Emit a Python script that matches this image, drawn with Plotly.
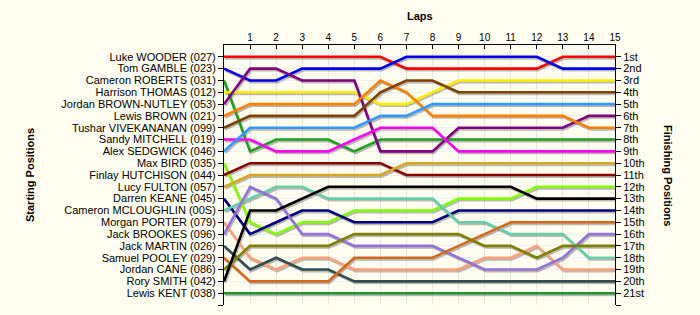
import plotly.graph_objects as go

# ---------------- data ----------------
laps = list(range(16))
lap_labels = ["", "1", "2", "3", "4", "5", "6", "7", "8", "9", "10", "11", "12", "13", "14", "15"]

start_labels = [
    "Luke WOODER (027)", "Tom GAMBLE (023)", "Cameron ROBERTS (031)", "Harrison THOMAS (012)",
    "Jordan BROWN-NUTLEY (053)", "Lewis BROWN (021)", "Tushar VIVEKANANAN (099)", "Sandy MITCHELL (019)",
    "Alex SEDGWICK (046)", "Max BIRD (035)", "Finlay HUTCHISON (044)", "Lucy FULTON (057)",
    "Darren KEANE (045)", "Cameron MCLOUGHLIN (00S)", "Morgan PORTER (079)", "Jack BROOKES (096)",
    "Jack MARTIN (026)", "Samuel POOLEY (029)", "Jordan CANE (086)", "Rory SMITH (042)", "Lewis KENT (038)",
]
finish_labels = ["1st", "2nd", "3rd", "4th", "5th", "6th", "7th", "8th", "9th", "10th", "11th",
                 "12th", "13th", "14th", "15th", "16th", "17th", "18th", "19th", "20th", "21st"]

# position on each lap (lap 0 = starting position)
wooder      = [1, 1, 1, 1, 1, 1, 1, 2, 2, 2, 2, 2, 2, 1, 1, 1]
gamble      = [2, 3, 3, 2, 2, 2, 2, 1, 1, 1, 1, 1, 1, 2, 2, 2]
roberts     = [3, 9, 8, 8, 8, 9, 8, 8, 8, 8, 8, 8, 8, 8, 8, 8]
thomas      = [4, 4, 4, 4, 4, 4, 5, 5, 4, 3, 3, 3, 3, 3, 3, 3]
brownnutley = [5, 2, 2, 3, 3, 3, 9, 9, 9, 7, 7, 7, 7, 7, 6, 6]
brown       = [6, 5, 5, 5, 5, 5, 3, 4, 6, 6, 6, 6, 6, 6, 7, 7]
vivekananan = [7, 6, 6, 6, 6, 6, 4, 3, 3, 4, 4, 4, 4, 4, 4, 4]
mitchell    = [8, 8, 9, 9, 9, 8, 7, 7, 7, 9, 9, 9, 9, 9, 9, 9]
sedgwick    = [9, 7, 7, 7, 7, 7, 6, 6, 5, 5, 5, 5, 5, 5, 5, 5]
bird        = [10, 15, 16, 15, 15, 14, 14, 14, 14, 13, 13, 13, 12, 12, 12, 12]
hutchison   = [11, 10, 10, 10, 10, 10, 10, 11, 11, 11, 11, 11, 11, 11, 11, 11]
fulton      = [12, 11, 11, 11, 11, 11, 11, 10, 10, 10, 10, 10, 10, 10, 10, 10]
keane       = [13, 16, 15, 14, 14, 15, 15, 15, 15, 14, 14, 14, 14, 14, 14, 14]
mcloughlin  = [14, 13, 12, 12, 13, 13, 13, 13, 13, 15, 15, 16, 16, 16, 18, 18]
porter      = [15, 18, 19, 18, 18, 19, 19, 19, 19, 19, 18, 18, 17, 19, 19, 19]
brookes     = [16, 12, 13, 16, 16, 17, 17, 17, 17, 18, 19, 19, 19, 18, 16, 16]
martin      = [17, 19, 18, 19, 19, 20, 20, 20, 20, 20, 20, 20, 20, 20, 20, 20]
pooley      = [18, 20, 20, 20, 20, 18, 18, 18, 18, 17, 16, 15, 15, 15, 15, 15]
cane        = [19, 17, 17, 17, 17, 16, 16, 16, 16, 16, 17, 17, 18, 17, 17, 17]
smith       = [20, 14, 14, 13, 12, 12, 12, 12, 12, 12, 12, 12, 13, 13, 13, 13]
kent        = [21, 21, 21, 21, 21, 21, 21, 21, 21, 21, 21, 21, 21, 21, 21, 21]

series = [wooder, gamble, roberts, thomas, brownnutley, brown, vivekananan, mitchell, sedgwick,
          bird, hutchison, fulton, keane, mcloughlin, porter, brookes, martin, pooley, cane, smith, kent]

colors = ["#ff0000", "#0000ee", "#1ea01e", "#ffee00", "#800080", "#ff8000", "#804000", "#ff00ff",
          "#3399ff", "#80ff00", "#8b0000", "#daa520", "#000080", "#66cdaa", "#ffa07a", "#9370db",
          "#2f4f4f", "#d2691e", "#808000", "#000000", "#20962a"]

position_ticks = list(range(1, 23))

# ---------------- figure ----------------
fig = go.Figure()

# drop shadows
for pos in series:
    fig.add_trace(go.Scatter(
        x=[l + 0.045 for l in laps], y=[p + 0.14 for p in pos], mode="lines",
        line=dict(color="rgba(60,60,60,0.35)", width=2.6), hoverinfo="skip", showlegend=False))

for name, pos, col in zip(start_labels, series, colors):
    fig.add_trace(go.Scatter(
        x=laps, y=pos, mode="lines", name=name,
        line=dict(color=col, width=2.6), showlegend=False))

# dummy trace for the right-hand axis
fig.add_trace(go.Scatter(x=[laps[0]], y=[kent[0]], yaxis="y2", mode="markers",
                         marker=dict(opacity=0), hoverinfo="skip", showlegend=False))

bg = "#fffef0"
font = dict(family="Arial, Liberation Sans, sans-serif", size=11, color="black")

fig.update_layout(
    width=700, height=315,
    margin=dict(l=224, r=85, t=45, b=10, autoexpand=False),
    paper_bgcolor=bg, plot_bgcolor=bg,
    font=font,
    xaxis=dict(side="top", range=[0, 15], tickvals=laps, ticktext=lap_labels,
               showgrid=True, gridcolor="#e8e8e8", gridwidth=1, zeroline=False,
               showline=True, linecolor="black", linewidth=1,
               ticks="inside", ticklen=4, tickcolor="black", tickfont=dict(size=10),
               ticklabelstandoff=-1),
    yaxis=dict(range=[22, 0], tickvals=position_ticks, ticktext=start_labels + [""],
               showgrid=True, gridcolor="#efefef", zeroline=False,
               showline=True, linecolor="black", linewidth=1,
               ticks="outside", ticklen=5, tickcolor="black", tickfont=dict(size=11)),
    yaxis2=dict(overlaying="y", side="right", range=[22, 0], tickvals=position_ticks,
                ticktext=finish_labels + [""], showgrid=False, zeroline=False,
                showline=True, linecolor="black", linewidth=1,
                ticks="outside", ticklen=5, tickcolor="black", tickfont=dict(size=11)),
    annotations=[
        dict(text="<b>Laps</b>", x=0.5, y=1, xref="paper", yref="paper", yshift=29,
             xanchor="center", yanchor="middle", showarrow=False, font=dict(size=11)),
        dict(text="<b>Starting Positions</b>", x=0, y=0.5, xref="paper", yref="paper",
             xshift=-194, xanchor="center", yanchor="middle", textangle=-90,
             showarrow=False, font=dict(size=11)),
        dict(text="<b>Finishing Positions</b>", x=1, y=0.5, xref="paper", yref="paper",
             xshift=53, xanchor="center", yanchor="middle", textangle=90,
             showarrow=False, font=dict(size=11)),
    ],
)

fig.write_html("out.html")
